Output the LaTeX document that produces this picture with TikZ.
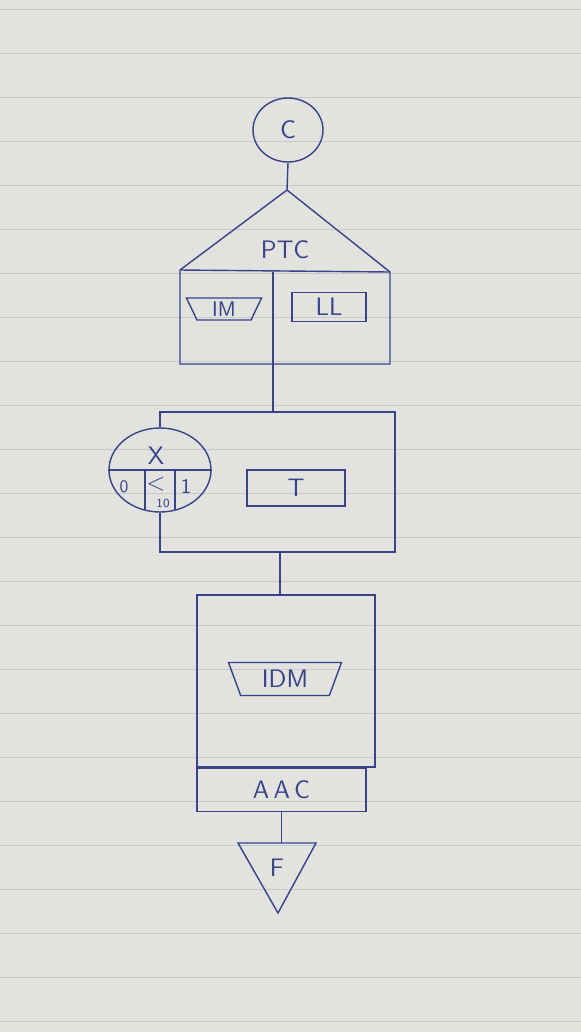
\documentclass[tikz,border=0pt]{standalone}
\usepackage{tikz}
\usetikzlibrary{shapes,calc}

\definecolor{ink}{RGB}{58,66,140}
\definecolor{paper}{RGB}{226,226,222}
\definecolor{paperrule}{RGB}{200,200,206}

\tikzset{
  cell/.style={draw=ink, rectangle, inner sep=1pt},
  manop/.style={draw=ink, trapezium, shape border rotate=180, trapezium angle=60, trapezium stretches body, inner sep=1pt},
  oval/.style={draw=ink, ellipse, inner sep=0pt}
}

\begin{document}
\begin{tikzpicture}[x=0.02cm, y=-0.02cm, ink, thick, font=\sffamily\Large]
  \fill[paper] (0,0) rectangle (581,1032);
  \useasboundingbox (0,0) rectangle (581,1032);
  \foreach \yrule in {9,53,...,1032} {\draw[paperrule, thin] (0,\yrule) -- (581,\yrule);}

  \node[oval, minimum width=1.4cm, minimum height=1.28cm] (c) at (288,130) {C};
  \coordinate (ptctop) at (287,190);
  \coordinate (ptcleft) at (180,270);
  \coordinate (ptcright) at (390,272);
  \coordinate (ptcsw) at (180,364);
  \coordinate (ptcse) at (390,364);
  \coordinate (ptcmid) at (273,364);
  \draw (c.south) -- (ptctop);
  \draw (ptcleft) -- (ptctop) -- (ptcright) -- (ptcse) -- (ptcsw) -- cycle;
  \draw (ptcleft) -- (ptcright);
  \draw (ptcmid |- ptcright) -- (ptcmid);
  \node (ptc) at (285,250) {PTC};
  \node[manop, minimum width=1.5cm, minimum height=0.44cm, font=\sffamily\large] (im) at (224,309) {IM};
  \node[cell, minimum width=1.48cm, minimum height=0.58cm] (ll) at (329,307) {LL};

  \coordinate (lpne) at (395,412);
  \coordinate (lpse) at (395,552);
  \node[oval, minimum width=2.04cm, minimum height=1.68cm] (x) at (160,470) {};
  \draw (ptcmid) -- (ptcmid |- lpne);
  \draw (x.north) -- (x.north |- lpne) -- (lpne) -- (lpse) -- (x.south |- lpse) -- (x.south);
  \draw (x.west) -- (x.east);
  \draw ($(x.center)+(-15,0)$) -- ++(0,40);
  \draw ($(x.center)+(15,0)$) -- ++(0,40);
  \node at ($(x.center)+(-4,-14)$) {X};
  \node[font=\sffamily\normalsize] at ($(x.center)+(-36,17)$) {0};
  \node at ($(x.center)+(-4,14)$) {$<$};
  \node[font=\sffamily\scriptsize] at ($(x.center)+(3,33)$) {10};
  \node[font=\sffamily\large] at ($(x.center)+(26,16)$) {1};
  \node[cell, minimum width=1.96cm, minimum height=0.72cm] (t) at (296,488) {T};

  \coordinate (lpout) at (280,552);
  \node[cell, minimum width=3.56cm, minimum height=3.44cm] (idmbox) at (286,681) {};
  \draw (lpout) -- (lpout |- idmbox.north);
  \node[manop, minimum width=2.26cm, minimum height=0.66cm] (idm) at (285,679) {IDM};
  \node[cell, anchor=north west, minimum width=3.38cm, minimum height=0.86cm] (aac) at (idmbox.south west) {A\,A\,C};

  \coordinate (fl) at (238,843);
  \coordinate (fr) at (316,843);
  \coordinate (fa) at (278,913);
  \draw (aac.south) -- (aac.south |- fl);
  \draw (fl) -- (fr) -- (fa) -- cycle;
  \node (f) at (277,868) {F};
\end{tikzpicture}
\end{document}
